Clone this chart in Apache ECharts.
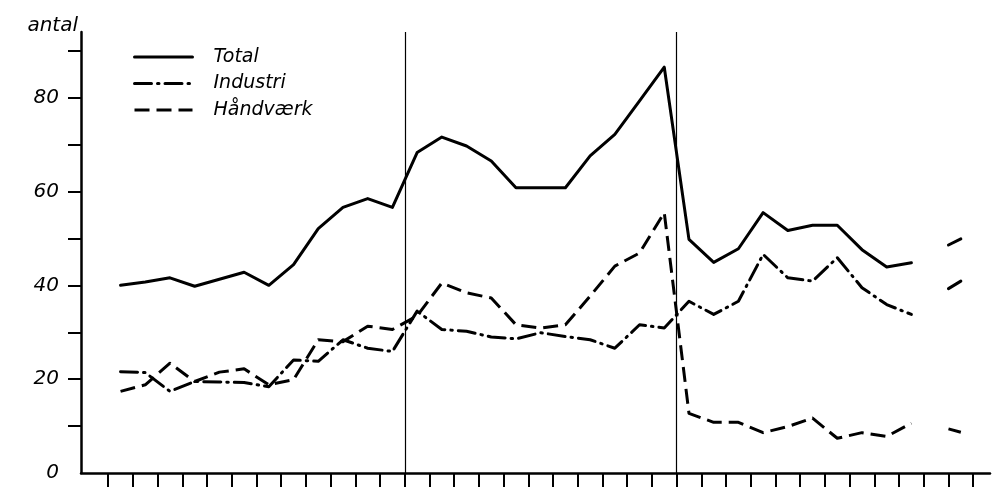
<!DOCTYPE html>
<html><head><meta charset="utf-8">
<script src="https://cdn.jsdelivr.net/npm/echarts@6/dist/echarts.min.js"></script>
<style>html,body{margin:0;padding:0;background:#fff}#c{width:992px;height:490px}</style>
</head><body><div id="c"></div>
<script>
// Period numbers (35 periods, no labels shown on the axis)
const periods = [1,2,3,4,5,6,7,8,9,10,11,12,13,14,15,16,17,18,19,20,21,22,23,24,25,26,27,28,29,30,31,32,33,34,35];
const total = [40,40.7,41.6,39.8,41.3,42.8,40,44.4,52.1,56.6,58.5,56.6,68.3,71.6,69.7,66.5,60.8,60.8,60.8,67.6,72.2,79.3,86.5,49.8,44.9,47.8,55.5,51.7,52.8,52.8,47.6,43.9,44.8,null,49.9];
const industri = [21.6,21.4,17.4,19.5,19.4,19.3,18.4,24.1,23.8,28.4,26.6,25.9,34.5,30.6,30.2,29.0,28.6,29.9,29.1,28.4,26.6,31.6,30.9,36.6,33.8,36.6,46.6,41.6,40.9,45.9,39.5,35.9,33.8,null,40.9];
const haandvaerk = [17.4,18.8,23.4,19.5,21.5,22.2,18.8,19.9,28.4,28.0,31.3,30.6,33.5,40.5,38.4,37.3,31.6,30.9,31.6,37.7,44.1,46.9,55.5,12.7,10.8,10.8,8.6,9.9,11.7,7.4,8.6,7.8,10.6,null,8.7];
// short trend stubs leading into the last period (start position on the period axis, value)
const stubStart = 34.0;
const stubTotal = 48.6;
const stubIndustri = 39.3;
const stubHaandvaerk = 9.4;
const yTickValues = [10,20,30,40,50,60,70,80,90];
const yLabelValues = [0,20,40,60,80];
const dividerAt = [12, 23];
const seriesNames = ['Total','Industri','Håndværk'];

function build(vals, stubVal) {
  const out = [];
  vals.forEach((v, i) => {
    if (i === vals.length - 1 && vals[i-1] == null) out.push([stubStart, stubVal]);
    out.push([periods[i] - 0.5, v == null ? '-' : v]);
  });
  return out;
}
const xTickValues = [0].concat(periods);

const chart = echarts.init(document.getElementById('c'), null, {renderer:'canvas'});
const font = 'DejaVu Sans';
const lineBase = {type:'line', symbol:'none', showSymbol:false, connectNulls:false, silent:true, animation:false};
chart.setOption({
  animation:false,
  backgroundColor:'#fff',
  grid:{left:81, right:2, top:32, bottom:17, containLabel:false},
  legend:{
    data:seriesNames, orient:'vertical', left:128, top:42,
    itemWidth:58, itemHeight:14, itemGap:6.5,
    itemStyle:{opacity:0, borderWidth:0},
    lineStyle:{width:3},
    textStyle:{fontFamily:font, fontStyle:'italic', fontSize:19, color:'#000', lineHeight:20, padding:[0,0,0,16]},
    inactiveColor:'#000', selectedMode:false
  },
  xAxis:{
    type:'value', min:-1.1, max:35.68,
    axisLine:{show:true, onZero:false, lineStyle:{color:'#000', width:2.5}},
    axisTick:{show:true, inside:false, length:14, customValues:xTickValues, lineStyle:{color:'#000', width:2}},
    axisLabel:{show:false},
    splitLine:{show:false}
  },
  yAxis:{
    type:'value', min:0, max:94,
    name:'antal', nameLocation:'end', nameGap:6,
    nameTextStyle:{fontFamily:font, fontStyle:'italic', fontSize:20, color:'#000', align:'right', verticalAlign:'middle', padding:[0,3,0,0]},
    axisLine:{show:true, onZero:false, lineStyle:{color:'#000', width:2.5}},
    axisTick:{show:true, inside:false, length:13, customValues:yTickValues, lineStyle:{color:'#000', width:2}},
    axisLabel:{show:true, customValues:yLabelValues, margin:22, fontFamily:font, fontStyle:'italic', fontSize:20, color:'#000'},
    splitLine:{show:false}
  },
  series:[
    Object.assign({}, lineBase, {name:seriesNames[0], data:build(total, stubTotal), z:3,
      lineStyle:{color:'#000', width:3, type:'solid', cap:'round', join:'round'}, itemStyle:{color:'#000'},
      markLine:{silent:true, symbol:['none','none'], label:{show:false},
        lineStyle:{color:'#000', width:1.2, type:'solid'},
        data:dividerAt.map(v => ({xAxis:v}))}}),
    Object.assign({}, lineBase, {name:seriesNames[1], data:build(industri, stubIndustri), z:2,
      lineStyle:{color:'#000', width:3, type:[17,6,1.5,6], cap:'round', join:'round'}, itemStyle:{color:'#000'}}),
    Object.assign({}, lineBase, {name:seriesNames[2], data:build(haandvaerk, stubHaandvaerk), z:2,
      lineStyle:{color:'#000', width:3, type:[15,7], cap:'butt', join:'round'}, itemStyle:{color:'#000'}})
  ]
});
</script>
</body></html>
